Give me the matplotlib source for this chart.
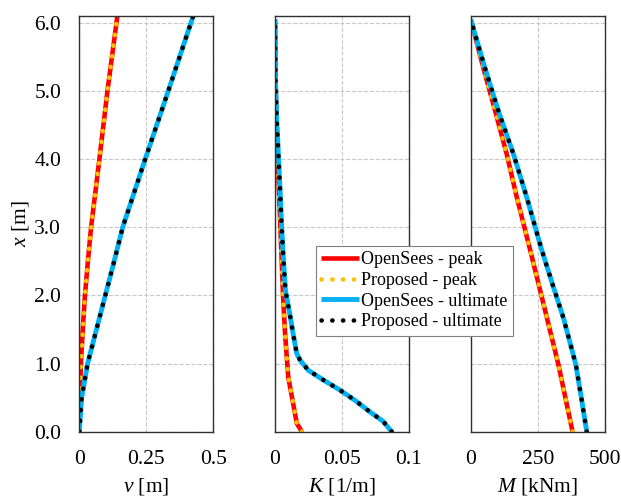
import numpy as np
import matplotlib
matplotlib.use('Agg')
import matplotlib.pyplot as plt

plt.rcParams['font.family'] = ['Liberation Serif', 'DejaVu Serif']
plt.rcParams['mathtext.fontset'] = 'custom'
plt.rcParams['mathtext.rm'] = 'Liberation Serif'
plt.rcParams['mathtext.it'] = 'Liberation Serif:italic'

# displacement v [m]
h_v = [0, 0.5, 1.0, 1.5, 2.0, 2.5, 3.0, 4.0, 5.0, 6.1]
v_os_peak = [0, 0.002, 0.006, 0.013, 0.021, 0.032, 0.044, 0.075, 0.105, 0.142]
v_pr_peak = [0, 0.002, 0.006, 0.013, 0.021, 0.032, 0.044, 0.075, 0.105, 0.142]
v_os_ult = [0, 0.009, 0.031, 0.064, 0.097, 0.130, 0.162, 0.246, 0.332, 0.425]
v_pr_ult = [0, 0.009, 0.031, 0.064, 0.097, 0.130, 0.162, 0.246, 0.332, 0.425]

# curvature K [1/m]
h_kp = [0, 0.12, 0.8, 1.44, 2.0, 3.0, 4.0, 5.0, 6.05]
k_os_peak = [0.0201, 0.0163, 0.0099, 0.0075, 0.0060, 0.0040, 0.0020, 0.0006, 0]
k_pr_peak = [0.0201, 0.0163, 0.0099, 0.0075, 0.0060, 0.0040, 0.0020, 0.0006, 0]
h_ku = [0, 0.15, 0.29, 0.46, 0.61, 0.76, 0.90, 1.05, 1.15, 1.44, 1.73,
        2.07, 2.56, 3.0, 3.59, 4.08, 4.56, 5.2, 6.05]
k_os_ult = [0.0871, 0.0808, 0.0709, 0.0597, 0.0485, 0.036, 0.0249, 0.0187,
            0.0162, 0.0135, 0.011, 0.0078, 0.0062, 0.005, 0.0037, 0.0025,
            0.0013, 0.0003, 0]
k_pr_ult = list(k_os_ult)

# moment M [kNm]
h_mp = [0, 0.99, 1.98, 2.68, 3.44, 4.08, 4.71, 5.34, 6.05]
m_os_peak = [380, 327, 265, 221, 172, 134, 91, 47, 0]
m_pr_peak = list(m_os_peak)
h_mu = [0, 0.47, 0.99, 1.67, 2.13, 2.68, 3.44, 4.08, 4.71, 5.34, 6.05]
m_os_ult = [433, 414, 392, 346, 308, 264, 209, 159, 103, 53, 0]
m_pr_ult = list(m_os_ult)

labels = ['OpenSees - peak', 'Proposed - peak',
          'OpenSees - ultimate', 'Proposed - ultimate']

fig = plt.figure(figsize=(6.21, 4.98), dpi=100)
W, H = 621, 498
lefts = [79.3, 275, 470.7]
axes = [fig.add_axes([l / W, (H - 431.7) / H, 134 / W, 415.7 / H]) for l in lefts]

panels = [
    (h_v, v_os_peak, v_pr_peak, h_v, v_os_ult, v_pr_ult,
     (0, 0.5), [0, 0.25, 0.5], ['0', '0.25', '0.5'], r'$v$ [m]'),
    (h_kp, k_os_peak, k_pr_peak, h_ku, k_os_ult, k_pr_ult,
     (0, 0.1), [0, 0.05, 0.1], ['0', '0.05', '0.1'], r'$K$ [1/m]'),
    (h_mp, m_os_peak, m_pr_peak, h_mu, m_os_ult, m_pr_ult,
     (0, 500), [0, 250, 500], ['0', '250', '500'], r'$M$ [kNm]'),
]

dots = (0, (0.05, 2.3))
handles = None
for i, (ax, p) in enumerate(zip(axes, panels)):
    hp, osp, prp, hu, osu, pru, xl, xt, xtl, xlab = p
    l1, = ax.plot(osp, hp, color='#FF0000', lw=3.3, solid_capstyle='butt')
    l2, = ax.plot(prp, hp, color='#FFC000', lw=3.3, linestyle=dots,
                  dash_capstyle='round')
    l3, = ax.plot(osu, hu, color='#00B0F0', lw=3.5, solid_capstyle='butt')
    l4, = ax.plot(pru, hu, color='black', lw=3.3, linestyle=dots,
                  dash_capstyle='round')
    handles = [l1, l2, l3, l4]
    ax.set_xlim(*xl)
    ax.set_ylim(0, 6.1)
    ax.set_xticks(xt)
    ax.set_xticklabels(xtl)
    ax.set_yticks(np.arange(0, 6.01, 1.0))
    if i == 0:
        ax.set_yticklabels(['%.1f' % t for t in np.arange(0, 6.01, 1.0)])
        ax.set_ylabel(r'$x$ [m]', fontsize=15.5, labelpad=2)
    else:
        ax.set_yticklabels([])
    ax.set_xlabel(xlab, fontsize=15.5, labelpad=5)
    ax.tick_params(length=0, pad=13, labelsize=15.5)
    ax.grid(True, linestyle='--', color='#c8c8c8', linewidth=0.8)
    ax.set_axisbelow(True)
    for s in ax.spines.values():
        s.set_color('#303030')
        s.set_linewidth(1.0)

leg = fig.legend(handles, labels, loc='upper left',
                 bbox_to_anchor=(316 / W, (H - 246) / H), fontsize=13,
                 fancybox=False, framealpha=1, edgecolor='#808080',
                 handlelength=2.1, handletextpad=0.1, labelspacing=0.2,
                 borderpad=0.3, borderaxespad=0)
leg.get_frame().set_linewidth(0.8)

fig.savefig('out.png', dpi=100)
